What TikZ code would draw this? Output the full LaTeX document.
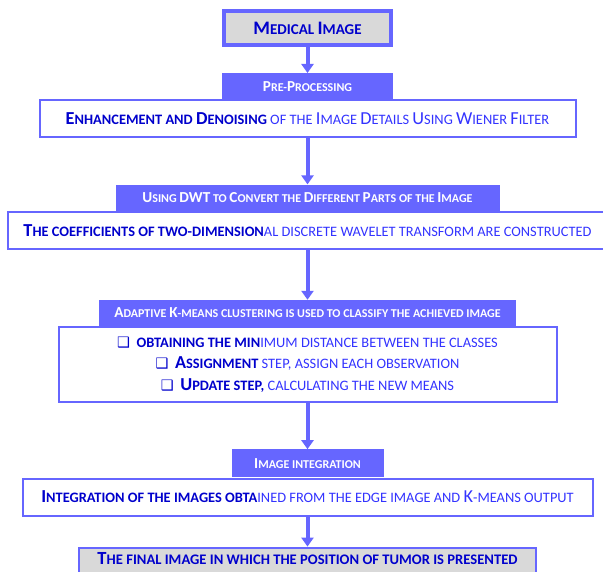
\documentclass[tikz,border=0pt]{standalone}
\usepackage{fontspec}
\setmainfont{Carlito}
\newfontfamily\dingfont{DejaVu Sans}
\usetikzlibrary{arrows.meta,positioning}
\definecolor{flowblue}{HTML}{6666FF}
\definecolor{inkblue}{HTML}{0000CC}
\definecolor{litblue}{HTML}{3333FF}
\definecolor{capgray}{HTML}{D9D9D9}
\newcommand{\sqb}{{\dingfont\char"2751}}
\newcommand{\bd}[1]{{\bfseries\color{inkblue}#1}}
% capital letter of the hand-made small caps
\makeatletter
\newcommand{\C}[1]{{\fontsize{\fpeval{1.27*\f@size}}{0}\selectfont #1}}
\makeatother

\begin{document}
\begin{tikzpicture}[
  node distance=26pt,
  endbox/.style={draw=flowblue, fill=capgray, line width=4pt, text=inkblue, inner sep=0pt, font=\bfseries\fontsize{15}{17}\selectfont},
  hdr/.style={fill=flowblue, text=white, inner sep=0pt, minimum height=26pt, font=\bfseries\fontsize{12}{14}\selectfont},
  body/.style={draw=flowblue, fill=white, line width=2pt, align=center, text=litblue, inner sep=0pt, minimum height=37pt, font=\fontsize{14.4}{21.5}\selectfont},
  ar/.style={-{Triangle[width=12pt,length=9pt]}, line width=4pt, draw=flowblue}]

\useasboundingbox (0,0) rectangle (603pt,-572pt);

\node[endbox, minimum width=167pt, minimum height=34pt] (med) at (307.5pt,-28pt) {\C{M}EDICAL \C{I}MAGE};
\node[hdr, minimum width=171pt, below=26pt of med] (pre) {\C{P}RE-\C{P}ROCESSING};
\node[body, minimum width=536pt, below=0pt of pre] (enh) {\bd{\C{E}NHANCEMENT AND \C{D}ENOISING} OF THE \C{I}MAGE \C{D}ETAILS \C{U}SING \C{W}IENER \C{F}ILTER};

\node[hdr, minimum width=384pt, below=46pt of enh] (dwt) {\C{U}SING \C{DWT} TO \C{C}ONVERT THE \C{D}IFFERENT \C{P}ARTS OF THE \C{I}MAGE};
\node[body, minimum width=600pt, below=0pt of dwt] (coef) {\bd{\C{T}HE COEFFICIENTS OF TWO-DIMENSION}AL DISCRETE WAVELET TRANSFORM ARE CONSTRUCTED};

\node[hdr, minimum width=417pt, below=50pt of coef] (kmh) {\C{A}DAPTIVE \C{K}-MEANS CLUSTERING IS USED TO CLASSIFY THE ACHIEVED IMAGE};
\node[body, minimum width=498pt, minimum height=75pt, below=0pt of kmh] (km) {%
  \bd{\sqb\ \ OBTAINING THE MIN}IMUM DISTANCE BETWEEN THE CLASSES\\
  \bd{\sqb\ \ \C{A}SSIGNMENT} STEP, ASSIGN EACH OBSERVATION\\
  \bd{\sqb\ \ \C{U}PDATE STEP,} CALCULATING THE NEW MEANS};

\node[hdr, minimum width=152pt, minimum height=28pt, below=46pt of km] (inth) {\C{I}MAGE INTEGRATION};
\node[body, minimum width=570pt, below=0pt of inth] (integ) {\bd{\C{I}NTEGRATION OF THE IMAGES OBTA}INED FROM THE EDGE IMAGE AND \C{K}-MEANS OUTPUT};

\node[endbox, line width=2pt, minimum width=457pt, minimum height=40pt, text height=10pt, text depth=16pt, below=30pt of integ, font=\bfseries\fontsize{14.6}{16}\selectfont] (final) {\C{T}HE FINAL IMAGE IN WHICH THE POSITION OF TUMOR IS PRESENTED};

\draw[ar] (med) -- (pre);
\draw[ar] (enh) -- (dwt);
\draw[ar] (coef) -- (kmh);
\draw[ar] (km) -- (inth);
\draw[ar] (integ) -- (final);
\end{tikzpicture}
\end{document}
